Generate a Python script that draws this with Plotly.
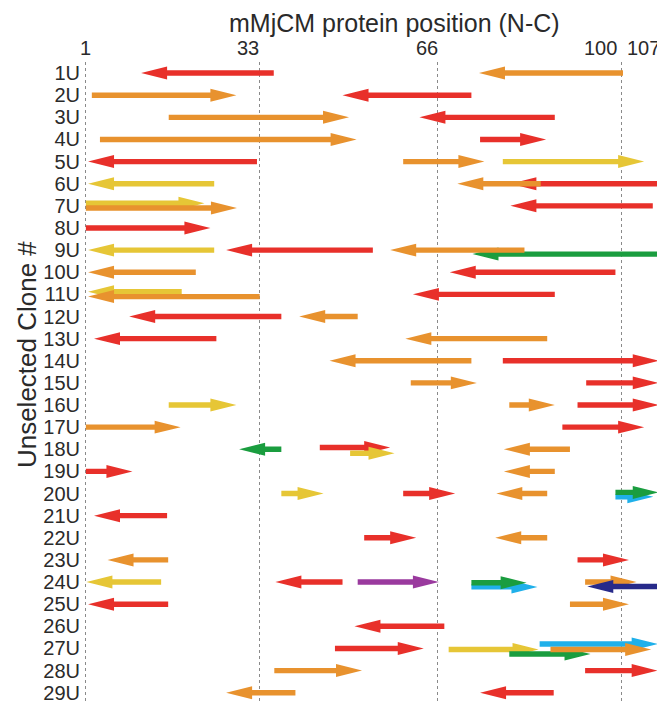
import plotly.graph_objects as go

# ---------------- data ----------------
clone_labels = [f"{i}U" for i in range(1, 30)]
position_ticks = [1, 33, 66, 100, 107]
x_title = "mMjCM protein position (N-C)"
y_title = "Unselected Clone #"

# one entry per arrow: clone row, tail residue, tip residue, colour key, lane offset (rows)
arrow_clone = [
    "1U", "1U",
    "2U", "2U",
    "3U", "3U",
    "4U", "4U",
    "5U", "5U", "5U",
    "6U", "6U", "6U",
    "7U", "7U", "7U",
    "8U",
    "9U", "9U", "9U", "9U",
    "10U", "10U",
    "11U", "11U", "11U",
    "12U", "12U",
    "13U", "13U",
    "14U", "14U",
    "15U", "15U",
    "16U", "16U", "16U",
    "17U", "17U",
    "18U", "18U", "18U", "18U",
    "19U", "19U",
    "20U", "20U", "20U", "20U", "20U",
    "21U",
    "22U", "22U",
    "23U", "23U",
    "24U", "24U", "24U", "24U", "24U", "24U", "24U",
    "25U", "25U",
    "26U",
    "27U", "27U", "27U", "27U", "27U",
    "28U", "28U",
    "29U", "29U",
]
arrow_tail = [
    35.7, 100.2,
    2.1, 72.2,
    16.3, 87.6,
    3.6, 73.8,
    32.6, 59.6, 78.0,
    24.7, 107.0, 85.0,
    1.0, 1.0, 105.7,
    1.0,
    24.7, 54.0, 107.0, 82.0,
    21.3, 98.8,
    18.7, 33.1, 87.6,
    37.1, 51.2,
    25.1, 86.2,
    72.2, 78.0,
    61.0, 93.4,
    16.3, 79.2, 91.8,
    1.0, 89.0,
    37.1, 44.2, 49.8, 90.4,
    1.0, 87.6,
    37.1, 59.6, 86.2, 98.8, 98.8,
    16.0,
    52.4, 86.2,
    16.2, 91.8,
    14.9, 48.4, 51.2, 72.2, 72.2, 93.2, 107.0,
    16.2, 90.4,
    67.2,
    47.0, 68.0, 84.8, 79.2, 86.8,
    35.8, 93.2,
    39.7, 87.4,
]
arrow_tip = [
    11.2, 73.6,
    28.8, 48.4,
    49.6, 62.6,
    51.0, 86.0,
    1.4, 74.6, 104.1,
    1.4, 79.4, 69.6,
    22.9, 28.9, 79.4,
    24.0,
    1.4, 26.9, 72.4, 57.2,
    1.4, 68.2,
    1.4, 1.4, 61.4,
    9.0, 40.4,
    2.5, 60.0,
    46.0, 106.8,
    73.2, 106.8,
    28.8, 87.6, 106.8,
    18.5, 104.1,
    29.3, 57.2, 58.0, 78.2,
    9.6, 78.2,
    44.9, 69.2, 76.8, 105.8, 106.8,
    2.5,
    62.0, 76.6,
    5.0, 101.3,
    1.1, 36.0, 66.2, 84.4, 82.4, 102.7, 93.6,
    1.4, 101.3,
    50.6,
    63.4, 84.6, 106.6, 94.2, 105.4,
    52.0, 106.6,
    26.9, 73.8,
]
arrow_color = [
    "red", "orange",
    "orange", "red",
    "orange", "red",
    "orange", "red",
    "red", "orange", "yellow",
    "yellow", "red", "orange",
    "yellow", "orange", "red",
    "red",
    "yellow", "red", "green", "orange",
    "orange", "red",
    "yellow", "orange", "red",
    "red", "orange",
    "red", "orange",
    "orange", "red",
    "orange", "red",
    "yellow", "orange", "red",
    "orange", "red",
    "green", "red", "yellow", "orange",
    "red", "orange",
    "yellow", "red", "orange", "cyan", "green",
    "red",
    "red", "orange",
    "orange", "red",
    "yellow", "red", "purple", "cyan", "green", "orange", "navy",
    "red", "orange",
    "red",
    "red", "yellow", "cyan", "green", "orange",
    "orange", "red",
    "orange", "red",
]
arrow_lane = [
    0, 0,
    0, 0,
    0, 0,
    0, 0,
    0, 0, 0,
    0, 0, 0,
    -0.12, 0.10, 0,
    0,
    0, 0, 0.18, 0,
    0, 0,
    -0.12, 0.10, 0,
    0, 0,
    0, 0,
    0, 0,
    0, 0,
    0, 0, 0,
    0, 0,
    0, -0.08, 0.18, 0,
    0, 0,
    0, 0, 0, 0.15, -0.05,
    0,
    0, 0,
    0, 0,
    0, 0, 0, 0.22, 0.03, 0, 0.20,
    0, 0,
    0,
    0, 0.05, -0.20, 0.25, 0.05,
    0, 0,
    0, 0,
]

palette = {
    "red": "#E8302A",
    "orange": "#E8922E",
    "yellow": "#E6C636",
    "green": "#1A9D3F",
    "cyan": "#1FB0EA",
    "purple": "#9A3A9E",
    "navy": "#272A8A",
}

# ---------------- layout constants ----------------
PAGE_OFF = 8                      # default body margin of the html page
W, H = 665 - PAGE_OFF, 704 - PAGE_OFF
M_L, M_R, M_T, M_B = 81 - PAGE_OFF, 3, 62 - PAGE_OFF, 0
X_RANGE = [0.1, 107.4]
Y_RANGE = [28.42, -0.5]
plot_w = W - M_L - M_R
plot_h = H - M_T - M_B
px_per_res = plot_w / (X_RANGE[1] - X_RANGE[0])
px_per_row = plot_h / (Y_RANGE[0] - Y_RANGE[1])

HEAD_LEN = 26 / px_per_res
HEAD_HALF = 6.5 / px_per_row
SHAFT_HALF = 2.7 / px_per_row

FONT = "Liberation Sans, Arial, Helvetica, sans-serif"
TXT = "#2a2a2a"

fig = go.Figure()

for clone, tail, tip, ck, lane in zip(arrow_clone, arrow_tail, arrow_tip, arrow_color, arrow_lane):
    c = clone_labels.index(clone) + lane
    d = 1 if tip > tail else -1
    base = tip - d * HEAD_LEN
    xs = [tail, base, base, tip, base, base, tail, tail]
    ys = [c - SHAFT_HALF, c - SHAFT_HALF, c - HEAD_HALF, c,
          c + HEAD_HALF, c + SHAFT_HALF, c + SHAFT_HALF, c - SHAFT_HALF]
    fig.add_trace(go.Scatter(
        x=xs, y=ys, mode="lines", fill="toself",
        fillcolor=palette[ck], line=dict(width=0, color=palette[ck]),
        hoverinfo="skip", showlegend=False,
    ))

# page-pixel positions of the texts (from the top-left of the page)
plot_left_page = M_L + PAGE_OFF
plot_top_page = M_T + PAGE_OFF

annotations = []
for v in position_ticks:
    if v == position_ticks[0]:
        anchor, shift = "center", 0
    elif v == 100:
        anchor, shift = "right", -4
    else:
        anchor, shift = "right", 1
    annotations.append(dict(
        x=v, y=1, xref="x", yref="paper", text=str(v), showarrow=False,
        xanchor=anchor, xshift=shift, borderpad=0,
        yanchor="middle", yshift=plot_top_page - 48,
        font=dict(family=FONT, size=20, color=TXT),
    ))
annotations.append(dict(
    x=(394 - plot_left_page) / plot_w, y=1, xref="paper", yref="paper", text=x_title,
    showarrow=False, xanchor="center", yanchor="top", yshift=plot_top_page - PAGE_OFF,
    borderpad=0,
    font=dict(family=FONT, size=25, color=TXT),
))
annotations.append(dict(
    x=(27 - plot_left_page) / plot_w, y=1 - (356 - plot_top_page) / plot_h,
    xref="paper", yref="paper",
    text=y_title, showarrow=False, textangle=-90,
    xanchor="center", yanchor="middle",
    font=dict(family=FONT, size=26, color=TXT),
))

fig.update_layout(
    width=W, height=H,
    margin=dict(l=M_L, r=M_R, t=M_T, b=M_B),
    plot_bgcolor="white", paper_bgcolor="white",
    annotations=annotations,
    xaxis=dict(
        range=X_RANGE, side="top", tickvals=position_ticks, showticklabels=False,
        showgrid=True, gridcolor="#8a8a8a", griddash="dot", gridwidth=1,
        zeroline=False, showline=False, ticks="",
    ),
    yaxis=dict(
        range=Y_RANGE, tickvals=list(range(len(clone_labels))), ticktext=clone_labels,
        showgrid=False, zeroline=False, showline=False, ticks="",
        ticklabeloverflow="allow",
        tickfont=dict(family=FONT, size=20, color=TXT),
    ),
)

fig.write_html("out.html")
